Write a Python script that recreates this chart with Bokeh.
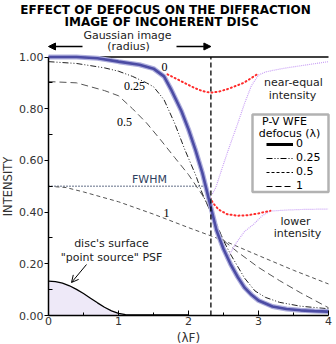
from bokeh.plotting import figure
from bokeh.models import (Range1d, FixedTicker, NumeralTickFormatter, Label, Arrow,
                          NormalHead, OpenHead, BoxAnnotation, Legend, LegendItem)
from bokeh.embed import file_html
from bokeh.resources import INLINE

# ---------------- data ----------------
gauss_r = 2.32          # Gaussian image radius (lambda F)
fwhm_level = 0.5
fwhm_end = 2.25

x_d0 = [0, 0.4, 0.7, 1.0, 1.3, 1.5, 1.65, 1.75, 1.9, 2.0, 2.1, 2.2, 2.3, 2.4, 2.5,
        2.6, 2.7, 2.8, 2.9, 3.0, 3.2, 3.4, 3.6, 3.8, 4.0]
y_d0 = [1.0, 1.0, 0.995, 0.982, 0.970, 0.955, 0.925, 0.875, 0.79, 0.72, 0.64, 0.55,
        0.44, 0.33, 0.257, 0.199, 0.15, 0.108, 0.08, 0.058, 0.035, 0.025, 0.02, 0.017, 0.015]

x_d025 = [0, 0.4, 0.8, 1.0, 1.2, 1.4, 1.5, 1.65, 1.8, 1.95, 2.1, 2.2, 2.3, 2.4, 2.5,
          2.6, 2.8, 2.95, 3.1, 3.3, 3.6, 4.0]
y_d025 = [0.982, 0.975, 0.958, 0.945, 0.925, 0.90, 0.885, 0.835, 0.745, 0.64, 0.545,
          0.47, 0.41, 0.35, 0.29, 0.237, 0.145, 0.095, 0.07, 0.051, 0.036, 0.026]

x_d05 = [0, 0.4, 0.8, 1.0, 1.2, 1.4, 1.6, 1.8, 2.0, 2.2, 2.33, 2.5, 2.7, 3.0, 3.3, 3.6, 4.0]
y_d05 = [0.905, 0.90, 0.87, 0.85, 0.80, 0.745, 0.68, 0.612, 0.545, 0.465, 0.40, 0.29,
         0.246, 0.186, 0.135, 0.088, 0.03]

x_d1 = [0, 0.25, 0.5, 1.0, 1.5, 2.0, 2.5, 3.0, 3.5, 4.0]
y_d1 = [0.5, 0.495, 0.478, 0.44, 0.392, 0.34, 0.29, 0.232, 0.175, 0.122]

x_psf = [0, 0.1, 0.2, 0.3, 0.4, 0.5, 0.6, 0.7, 0.8, 0.9, 1.0, 1.1, 1.5, 2.0]
y_psf = [0.133, 0.131, 0.125, 0.115, 0.101, 0.085, 0.067, 0.049, 0.032, 0.018,
         0.008, 0.003, 0.002, 0.002]

x_red_hi = [1.7, 1.89, 2.08, 2.2, 2.31, 2.43, 2.55, 2.79, 2.98]
y_red_hi = [0.933, 0.907, 0.881, 0.868, 0.862, 0.866, 0.875, 0.90, 0.933]

x_red_lo = [2.28, 2.35, 2.43, 2.55, 2.7, 2.85, 3.0, 3.17]
y_red_lo = [0.47, 0.435, 0.41, 0.392, 0.386, 0.388, 0.395, 0.405]

x_vio_hi = [2.34, 2.39, 2.5, 2.6, 2.7, 2.8, 2.9, 3.0, 3.1, 3.2, 3.4, 3.6, 3.8, 4.0]
y_vio_hi = [0.47, 0.495, 0.586, 0.665, 0.74, 0.82, 0.89, 0.93, 0.942, 0.948, 0.958,
            0.966, 0.974, 0.982]

x_vio_lo = [2.55, 2.67, 2.8, 2.93, 3.05, 3.17, 3.4, 3.6, 3.8, 4.0]
y_vio_lo = [0.218, 0.276, 0.325, 0.353, 0.385, 0.404, 0.408, 0.41, 0.411, 0.412]

legend_labels = ["0", "0.25", "0.5", "1"]
x_ticks = [0, 1, 2, 3, 4]
y_ticks = [0, 0.2, 0.4, 0.6, 0.8, 1.0]

# ---------------- layout helpers (pixel -> data) ----------------
W, H = 336, 344
FL, FB = 48, 315          # pixel position of x=0 / y=0
XS, YS = 70.0, 258.5      # px per unit
def dx(px): return (px - FL) / XS
def dy(py): return (FB - py) / YS

FONT = "DejaVu Sans"
NARROW = "Liberation Sans Narrow"

p = figure(width=W, height=H, output_backend="svg", toolbar_location=None,
           x_range=Range1d(dx(0), dx(W)), y_range=Range1d(dy(H), dy(0)),
           min_border_left=0, min_border_right=0, min_border_top=0,
           min_border_bottom=0)
p.outline_line_color = None
p.grid.visible = False
p.background_fill_color = "white"
p.border_fill_color = "white"

# axes (drawn at fixed data locations inside the frame)
xa = p.xaxis[0]
xa.fixed_location = 0
xa.bounds = (x_ticks[0], x_ticks[-1])
xa.ticker = FixedTicker(ticks=x_ticks, minor_ticks=[0.5, 1.5, 2.5, 3.5])
xa.axis_line_color = "black"; xa.axis_line_width = 1.5
xa.major_tick_in = 5; xa.major_tick_out = 0
xa.minor_tick_in = 3; xa.minor_tick_out = 0
xa.major_tick_line_color = "black"; xa.minor_tick_line_color = "black"
xa.major_label_text_font = FONT; xa.major_label_text_font_size = "11px"
xa.major_label_text_color = "#333333"; xa.major_label_standoff = 1
xa.axis_label = "(λF)"
xa.axis_label_text_font = FONT; xa.axis_label_text_font_size = "12px"
xa.axis_label_text_font_style = "normal"; xa.axis_label_text_color = "#333333"
xa.axis_label_standoff = 3

ya = p.yaxis[0]
ya.fixed_location = 0
ya.bounds = (y_ticks[0], y_ticks[-1])
ya.ticker = FixedTicker(ticks=y_ticks, minor_ticks=[0.1, 0.3, 0.5, 0.7, 0.9])
ya.formatter = NumeralTickFormatter(format="0.00")
ya.axis_line_color = "black"; ya.axis_line_width = 1.5
ya.major_tick_in = 0; ya.major_tick_out = 4
ya.minor_tick_in = 4; ya.minor_tick_out = 0
ya.major_tick_line_color = "black"; ya.minor_tick_line_color = "black"
ya.major_label_text_font = FONT; ya.major_label_text_font_size = "11px"
ya.major_label_text_color = "#333333"; ya.major_label_standoff = 1
ya.axis_label = "INTENSITY"
ya.axis_label_text_font = FONT; ya.axis_label_text_font_size = "11.5px"
ya.axis_label_text_font_style = "normal"; ya.axis_label_text_color = "#333333"
ya.axis_label_standoff = 1

# top frame line at intensity 1
p.segment(x0=[x_ticks[0]], y0=[y_ticks[-1]], x1=[x_ticks[-1]], y1=[y_ticks[-1]],
          line_color="black", line_width=1.5)

# PSF fill + curve
p.varea(x=x_psf, y1=[0] * len(x_psf), y2=y_psf, fill_color="#EEE9F8")
p.line(x_psf, y_psf, line_color="black", line_width=1.3)

# FWHM line
p.line([0, fwhm_end], [fwhm_level, fwhm_level], line_color="#2F3F5F", line_width=1.3,
       line_dash="1 2")

# defocus curves
p.line(x_d1, y_d1, line_color="#555555", line_width=1, line_dash="4 3")
p.line(x_d05, y_d05, line_color="#555555", line_width=1, line_dash="7 4")
p.line(x_d025, y_d025, line_color="#222222", line_width=1, line_dash="6 2 1 2 1 2")

# violet / red dotted guides
p.line(x_vio_hi, y_vio_hi, line_color="#C9A0F5", line_width=1.2, line_dash="1 1")
p.line(x_vio_lo, y_vio_lo, line_color="#C9A0F5", line_width=1.2, line_dash="1 1")
p.line(x_red_hi, y_red_hi, line_color="#FF2A2A", line_width=2, line_dash="1 3",
       line_cap="round")
p.line(x_red_lo, y_red_lo, line_color="#FF2A2A", line_width=2, line_dash="1 3",
       line_cap="round")

# in-focus curve (thick)
p.line(x_d0, y_d0, line_color="#B0B0DE", line_width=5)
p.line(x_d0, y_d0, line_color="#4C4CA4", line_width=2.6)

# Gaussian radius line
p.segment(x0=[gauss_r], y0=[0], x1=[gauss_r], y1=[1.0], line_color="black",
          line_width=1.3, line_dash="5 3")

def lab(text, px, py, size="11px", font=FONT, color="#222222", style="normal"):
    p.add_layout(Label(x=dx(px), y=dy(py), text=text, text_font=font,
                       text_font_size=size, text_color=color, text_font_style=style,
                       text_align="center", text_baseline="middle"))

# title
lab("EFFECT OF DEFOCUS ON THE DIFFRACTION", 165, 9, size="12px", color="black",
    style="bold")
lab("IMAGE OF INCOHERENT DISC", 161, 21, size="12px", color="black", style="bold")

# Gaussian image annotation
lab("Gaussian image", 127, 35)
lab("(radius)", 128, 46)
p.add_layout(Arrow(end=NormalHead(size=7, fill_color="black", line_color="black"),
                   x_start=dx(82), y_start=dy(46), x_end=0, y_end=dy(46),
                   line_color="black", line_width=1.5))
p.add_layout(Arrow(end=NormalHead(size=7, fill_color="black", line_color="black"),
                   x_start=dx(176), y_start=dy(46), x_end=gauss_r, y_end=dy(46),
                   line_color="black", line_width=1.5))

# curve labels
lab("0", 164, 66, size="12px", font=NARROW, color="black")
lab("0.25", 134, 85, size="12px", font=NARROW, color="black")
lab("0.5", 124, 121, size="12px", font=NARROW, color="black")
lab("1", 166, 212, size="12px", font=NARROW, color="black")
lab("FWHM", 149, 179, color="#2F3F5F")
lab("near-equal", 293, 82)
lab("intensity", 292, 95)
lab("lower", 295, 221)
lab("intensity", 297, 233)
lab("disc's surface", 111, 243)
lab("\"point source\" PSF", 111, 257)
p.add_layout(Arrow(end=OpenHead(size=7, line_color="black", line_width=1),
                   x_start=dx(86), y_start=dy(264), x_end=dx(71), y_end=dy(282),
                   line_color="black", line_width=1))

# legend box
p.add_layout(BoxAnnotation(left=dx(252), right=dx(328), top=dy(114), bottom=dy(191.5),
                           fill_color="white", fill_alpha=1.0, line_color="black",
                           line_width=2.5))
lab("P-V WFE", 284, 121, size="11px", color="black")
lab("defocus (λ)", 289, 133, size="11px", color="black")

nan = float("nan")
r0 = p.line([nan], [nan], line_color="black", line_width=3)
r1 = p.line([nan], [nan], line_color="black", line_width=1, line_dash="6 2 1 2 1 2")
r2 = p.line([nan], [nan], line_color="black", line_width=1, line_dash="3 2")
r3 = p.line([nan], [nan], line_color="black", line_width=1, line_dash="6 3")
leg = Legend(items=[LegendItem(label=t, renderers=[r]) for t, r in
                    zip(legend_labels, [r0, r1, r2, r3])],
             location=(266, H - 192), padding=0, margin=0, spacing=1,
             glyph_width=27, glyph_height=12, label_height=12, label_standoff=3,
             border_line_color=None, background_fill_alpha=0,
             label_text_font=FONT, label_text_font_size="11px",
             label_text_color="black")
p.add_layout(leg)

open("out.html", "w").write(file_html(p, INLINE))
